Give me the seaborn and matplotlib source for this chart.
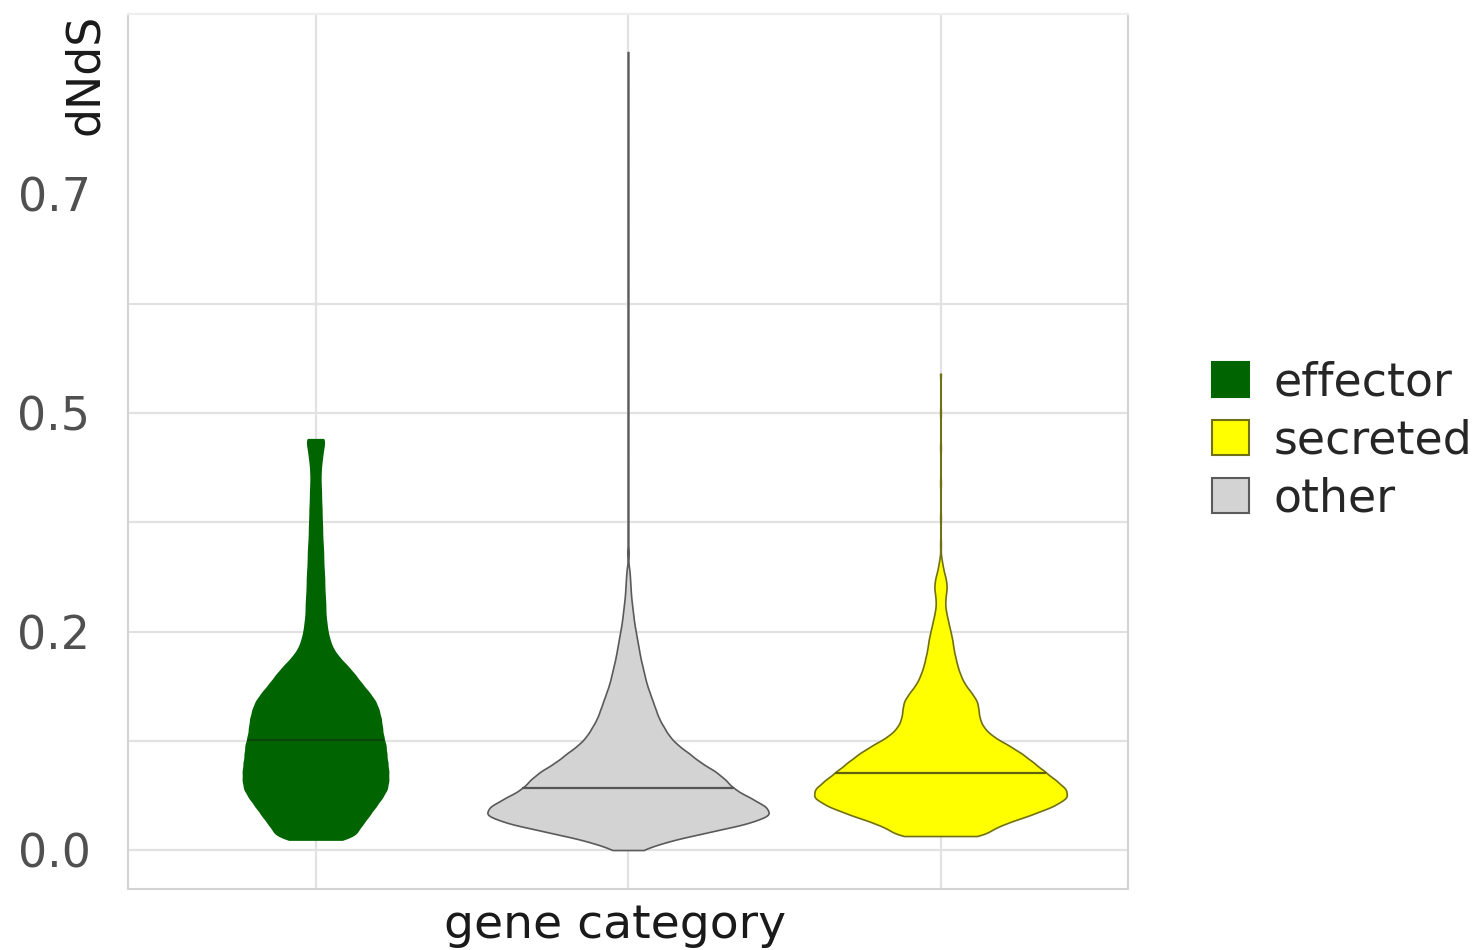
import numpy as np
import pandas as pd
import matplotlib
matplotlib.use("Agg")
import matplotlib.pyplot as plt
from matplotlib.colors import to_hex
from matplotlib.patches import Patch
import seaborn as sns

# ---- data -----------------------------------------------------------------
# x-axis order of the gene categories and the order used in the legend
categories = ["effector", "other", "secreted"]
legend_order = ["effector", "secreted", "other"]

# binned dN/dS values and the number of genes falling in each bin
effector_dnds = [0.012, 0.02, 0.03, 0.04, 0.05, 0.06, 0.07, 0.08, 0.09, 0.10,
                 0.11, 0.12, 0.13, 0.14, 0.15, 0.16, 0.17, 0.18, 0.19, 0.20,
                 0.21, 0.22, 0.23, 0.24, 0.25, 0.26, 0.27, 0.28, 0.29, 0.30,
                 0.31, 0.32, 0.33, 0.34, 0.35, 0.36, 0.37, 0.38, 0.39, 0.40,
                 0.41, 0.42, 0.43, 0.44, 0.45, 0.46, 0.47]
effector_genes = [44, 74, 88, 100, 112, 124, 134, 136, 136, 134,
                  132, 131, 126, 124, 122, 118, 112, 100, 86, 74,
                  60, 44, 32, 26, 22, 20, 18, 18, 17, 16,
                  16, 15, 14, 14, 13, 12, 12, 11, 11, 10,
                  10, 9, 9, 10, 12, 14, 18]

other_dnds = [0.0, 0.01, 0.02, 0.03, 0.04, 0.05, 0.06, 0.07, 0.08, 0.09,
              0.10, 0.11, 0.12, 0.13, 0.14, 0.15, 0.16, 0.17, 0.18, 0.19,
              0.20, 0.21, 0.22, 0.23, 0.24, 0.25, 0.26, 0.27, 0.28, 0.29,
              0.30, 0.31, 0.32, 0.34, 0.36, 0.39, 0.43, 0.47, 0.52, 0.57,
              0.62, 0.68, 0.74, 0.80, 0.86, 0.913]
other_genes = [26, 76, 152, 232, 280, 268, 236, 204, 190, 170,
               140, 120, 96, 80, 70, 60, 54, 48, 42, 36,
               32, 28, 24, 21, 18, 15, 12, 10, 8, 6,
               5, 4, 3, 2, 1, 1, 1, 1, 1, 1,
               1, 1, 1, 1, 1, 1]

secreted_dnds = [0.016, 0.02, 0.03, 0.04, 0.05, 0.06, 0.07, 0.08, 0.09, 0.10,
                 0.11, 0.12, 0.13, 0.14, 0.15, 0.16, 0.17, 0.18, 0.19, 0.20,
                 0.21, 0.22, 0.23, 0.24, 0.25, 0.26, 0.27, 0.28, 0.29, 0.30,
                 0.31, 0.32, 0.33, 0.35, 0.38, 0.42, 0.46, 0.50, 0.545]
secreted_genes = [40, 76, 128, 180, 226, 256, 252, 230, 208, 186,
                  164, 136, 104, 86, 78, 76, 74, 62, 48, 40,
                  34, 30, 26, 24, 20, 16, 12, 9, 10, 13,
                  11, 6, 3, 1, 1, 1, 1, 1, 1]

ytick_values = [0.0, 0.25, 0.5, 0.75]
ytick_labels = ["0.0", "0.2", "0.5", "0.7"]

# ---- styling --------------------------------------------------------------
fill_colors = {"effector": "#006400", "secreted": "#ffff00", "other": "#d3d3d3"}
edge_colors = {"effector": "#006400", "secreted": "#707014", "other": "#5a5a5a"}
median_colors = {"effector": "#0c450c", "secreted": "#62620e", "other": "#555555"}
grid_color = "#e2e2e2"
frame_color = "#d3d3d3"

sns.set_style("white")
plt.rcParams["font.family"] = ["DejaVu Sans"]

# one row per gene
samples = {
    "effector": (effector_dnds, effector_genes),
    "other": (other_dnds, other_genes),
    "secreted": (secreted_dnds, secreted_genes),
}
frames = []
for cat, (vals, counts) in samples.items():
    frames.append(pd.DataFrame({"category": cat,
                                "dNdS": np.repeat(vals, counts)}))
df = pd.concat(frames, ignore_index=True)

fig = plt.figure(figsize=(14.81, 9.5), dpi=100)
ax = fig.add_axes([128 / 1481, 1 - 889 / 950, 1000 / 1481, 875 / 950])

# background grid (drawn beneath the violins)
for gy in [0.0, 0.125, 0.25, 0.375, 0.5, 0.625]:
    ax.axhline(gy, color=grid_color, lw=1.6, zorder=0)
for gx in range(len(categories)):
    ax.axvline(gx, color=grid_color, lw=1.6, zorder=0)

bandwidth = 0.006
sns.violinplot(
    data=df, x="category", y="dNdS", hue="category",
    order=categories, hue_order=legend_order, palette=fill_colors,
    saturation=1, dodge=False, width=0.9, cut=0, gridsize=500,
    bw_method=lambda k: bandwidth / np.std(k.dataset, ddof=1),
    density_norm="area", common_norm=True, inner=None, linewidth=1.2,
    legend=False, ax=ax,
)

# outline colours per category, and the density median of each violin
hex_to_cat = {to_hex(c): k for k, c in fill_colors.items()}


def span_at(verts, y):
    xs = []
    for (x0, y0), (x1, y1) in zip(verts[:-1], verts[1:]):
        if y0 != y1 and (y0 - y) * (y1 - y) <= 0:
            t = (y - y0) / (y1 - y0)
            xs.append(x0 + t * (x1 - x0))
    return min(xs), max(xs)


def density_median(verts, center):
    side = verts[verts[:, 0] >= center]
    ys, idx = np.unique(side[:, 1], return_index=True)
    w = side[idx, 0] - center
    cum = np.concatenate([[0.0], np.cumsum(0.5 * (w[1:] + w[:-1]) * np.diff(ys))])
    return float(np.interp(0.5 * cum[-1], cum, ys))


for coll in list(ax.collections):
    fc = coll.get_facecolor()
    if len(fc) == 0:
        continue
    cat = hex_to_cat.get(to_hex(fc[0]))
    if cat is None:
        continue
    coll.set_edgecolor(edge_colors[cat])
    coll.set_zorder(2)
    verts = coll.get_paths()[0].vertices
    med = density_median(verts, categories.index(cat))
    x0, x1 = span_at(verts, med)
    ax.plot([x0, x1], [med, med], color=median_colors[cat], lw=1.6,
            zorder=3, solid_capstyle="butt")

ax.set_xlim(-0.6, 2.6)
ax.set_ylim(-0.0446, 0.9565)
ax.set_yticks(ytick_values)
ax.set_yticklabels(ytick_labels)
ax.set_xticks(range(len(categories)))
ax.tick_params(axis="x", length=7, width=1.2, color=frame_color,
               labelbottom=False)
ax.tick_params(axis="y", length=7, width=1.2, color=frame_color, pad=20,
               labelsize=33, labelcolor="#505050")

for side in ["left", "right", "top", "bottom"]:
    ax.spines[side].set_visible(True)
    ax.spines[side].set_color(frame_color)
    ax.spines[side].set_linewidth(1.5)
ax.spines["top"].set_color("#eeeeee")

ax.set_xlabel("gene category", fontsize=34, color="#1a1a1a")
ax.xaxis.set_label_coords(0.487, -0.016)
ax.set_ylabel("dNdS", fontsize=33, color="#1a1a1a", loc="top")
ax.yaxis.set_label_coords(-0.02, 1.0)

handles = [Patch(facecolor=fill_colors[c], edgecolor=edge_colors[c], lw=1.5)
           for c in legend_order]
fig.legend(handles, legend_order, loc="center left",
           bbox_to_anchor=(1212 / 1481, 1 - 441 / 950),
           frameon=False, fontsize=33, handlelength=0.8, handleheight=0.8,
           handletextpad=0.55, labelspacing=0.28, borderpad=0,
           borderaxespad=0)

fig.savefig("out.png", dpi=100, facecolor="white")
